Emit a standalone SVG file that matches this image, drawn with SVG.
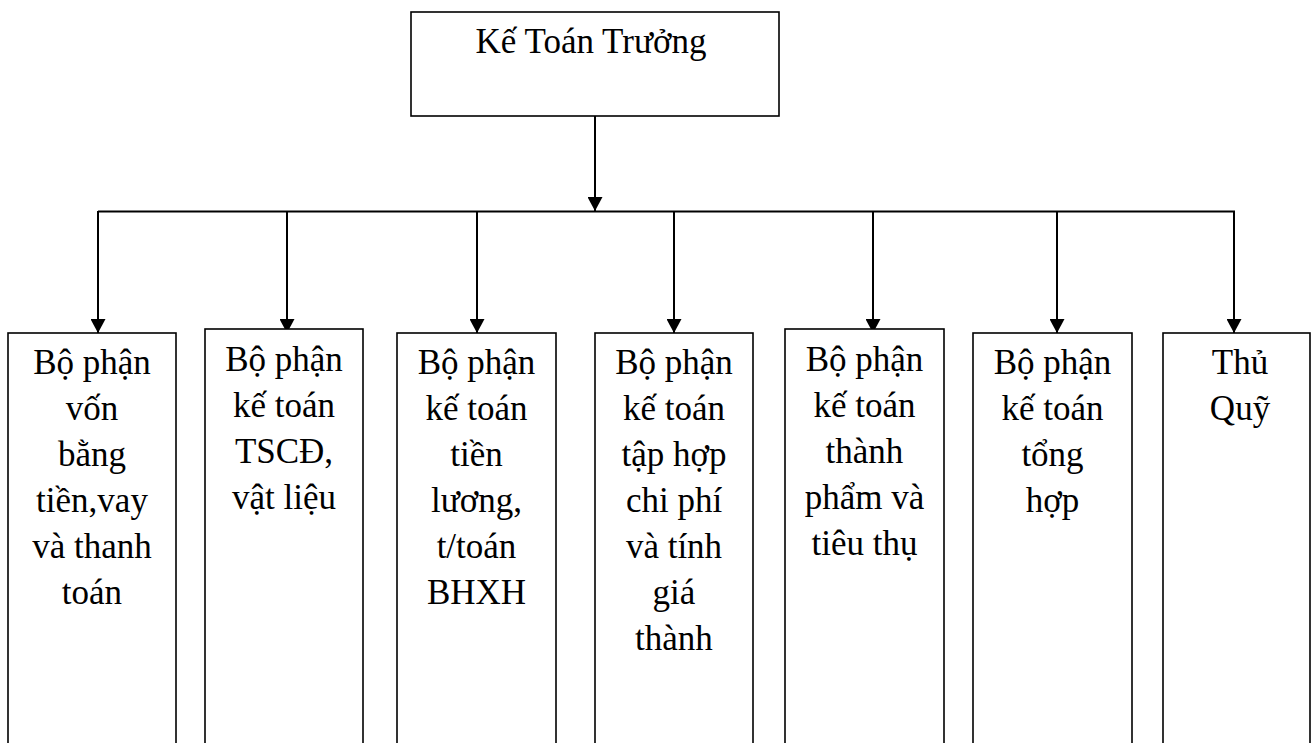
<svg xmlns="http://www.w3.org/2000/svg" width="1312" height="743" viewBox="0 0 1312 743">
<style>
.box{fill:#fff;stroke:#000;stroke-width:1.6}
.lbl{font-family:"Liberation Serif","Times New Roman",serif;font-size:35px;fill:#000;text-anchor:middle}
.conn{fill:none;stroke:#000;stroke-width:2}
</style>
<defs>
<marker id="arr" viewBox="0 0 14 15" refX="14" refY="7.5" markerWidth="14" markerHeight="15" markerUnits="userSpaceOnUse" orient="auto">
<path d="M0,0 L14,7.5 L0,15 z" fill="#000"/>
</marker>
</defs>
<rect width="1312" height="743" fill="#fff"/>
<g id="connectors">
<line class="conn" x1="595" y1="116" x2="595" y2="211" marker-end="url(#arr)"/>
<line class="conn" x1="98" y1="211.5" x2="1235" y2="211.5"/>
<line class="conn" x1="98" y1="211" x2="98" y2="333" marker-end="url(#arr)"/>
<line class="conn" x1="287" y1="211" x2="287" y2="333" marker-end="url(#arr)"/>
<line class="conn" x1="477" y1="211" x2="477" y2="333" marker-end="url(#arr)"/>
<line class="conn" x1="674" y1="211" x2="674" y2="333" marker-end="url(#arr)"/>
<line class="conn" x1="873" y1="211" x2="873" y2="333" marker-end="url(#arr)"/>
<line class="conn" x1="1057" y1="211" x2="1057" y2="333" marker-end="url(#arr)"/>
<line class="conn" x1="1234" y1="211" x2="1234" y2="333" marker-end="url(#arr)"/>
</g>
<g id="ke-toan-truong">
<rect class="box" x="411" y="12" width="368" height="104"/>
<text class="lbl" x="591" y="53">Kế Toán Trưởng</text>
</g>
<g id="bp-von-bang-tien">
<rect class="box" x="8" y="333" width="168" height="430"/>
<text class="lbl" x="92" y="374">Bộ phận</text>
<text class="lbl" x="92" y="420">vốn</text>
<text class="lbl" x="92" y="466">bằng</text>
<text class="lbl" x="92" y="512">tiền,vay</text>
<text class="lbl" x="92" y="558">và thanh</text>
<text class="lbl" x="92" y="604">toán</text>
</g>
<g id="bp-tscd">
<rect class="box" x="205" y="329" width="158" height="434"/>
<text class="lbl" x="284" y="371">Bộ phận</text>
<text class="lbl" x="284" y="417">kế toán</text>
<text class="lbl" x="284" y="463">TSCĐ,</text>
<text class="lbl" x="284" y="509">vật liệu</text>
</g>
<g id="bp-tien-luong">
<rect class="box" x="397" y="333" width="159" height="430"/>
<text class="lbl" x="476.5" y="374">Bộ phận</text>
<text class="lbl" x="476.5" y="420">kế toán</text>
<text class="lbl" x="476.5" y="466">tiền</text>
<text class="lbl" x="476.5" y="512">lương,</text>
<text class="lbl" x="476.5" y="558">t/toán</text>
<text class="lbl" x="476.5" y="604">BHXH</text>
</g>
<g id="bp-chi-phi">
<rect class="box" x="595" y="333" width="158" height="430"/>
<text class="lbl" x="674" y="374">Bộ phận</text>
<text class="lbl" x="674" y="420">kế toán</text>
<text class="lbl" x="674" y="466">tập hợp</text>
<text class="lbl" x="674" y="512">chi phí</text>
<text class="lbl" x="674" y="558">và tính</text>
<text class="lbl" x="674" y="604">giá</text>
<text class="lbl" x="674" y="650">thành</text>
</g>
<g id="bp-thanh-pham">
<rect class="box" x="785" y="329" width="159" height="434"/>
<text class="lbl" x="864.5" y="371">Bộ phận</text>
<text class="lbl" x="864.5" y="417">kế toán</text>
<text class="lbl" x="864.5" y="463">thành</text>
<text class="lbl" x="864.5" y="509">phẩm và</text>
<text class="lbl" x="864.5" y="555">tiêu thụ</text>
</g>
<g id="bp-tong-hop">
<rect class="box" x="973" y="333" width="159" height="430"/>
<text class="lbl" x="1052.5" y="374">Bộ phận</text>
<text class="lbl" x="1052.5" y="420">kế toán</text>
<text class="lbl" x="1052.5" y="466">tổng</text>
<text class="lbl" x="1052.5" y="512">hợp</text>
</g>
<g id="thu-quy">
<rect class="box" x="1163" y="333" width="147" height="430"/>
<text class="lbl" x="1240" y="374">Thủ</text>
<text class="lbl" x="1240" y="420">Quỹ</text>
</g>
</svg>
